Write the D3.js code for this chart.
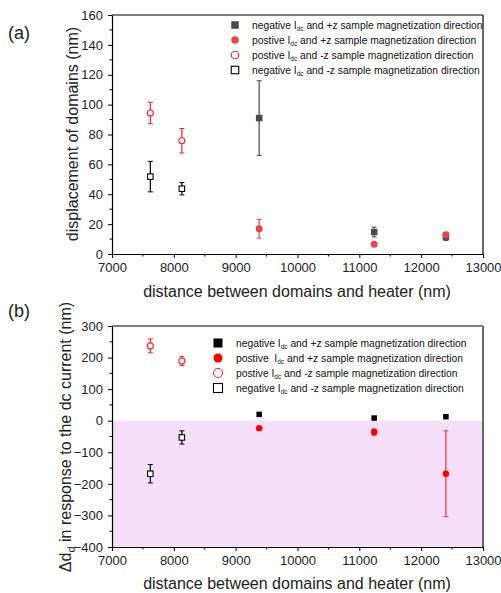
<!DOCTYPE html>
<html><head><meta charset="utf-8">
<script src="https://cdn.jsdelivr.net/npm/d3@7"></script>
<style>body{margin:0;background:#fff}svg{display:block;font-family:"Liberation Sans",Arial,sans-serif}</style>
</head><body><svg id="c" width="501" height="593"></svg>
<script>
// ---- data ----
const xTicks = [7000, 8000, 9000, 10000, 11000, 12000, 13000];
const yTicksA = [0, 20, 40, 60, 80, 100, 120, 140, 160];
const yTicksB = [-400, -300, -200, -100, 0, 100, 200, 300];

const xPlusZ = [9380, 11240, 12400];
const xMinusZ = [7620, 8130];

// panel (a)
const aNegPlusZ = [91, 14.7, 11.6],  aNegPlusZErr = [25, 3.3, 2.5];
const aPosPlusZ = [16.9, 6.5, 12.9], aPosPlusZErr = [6.3, 0, 1.2];
const aPosMinusZ = [94.4, 75.8],     aPosMinusZErr = [7.2, 8.2];
const aNegMinusZ = [51.8, 43.7],     aNegMinusZErr = [10.2, 4.1];

// panel (b)
const bNegPlusZ = [20, 8.5, 12.7],    bNegPlusZErr = [0, 0, 0];
const bPosPlusZ = [-24, -36, -168],   bPosPlusZErr = [3, 10, 136];
const bPosMinusZ = [237, 189],        bPosMinusZErr = [22, 14];
const bNegMinusZ = [-168, -53],       bNegMinusZErr = [29, 21];

const legendA = [
  ["negative I", "dc", " and +z sample magnetization direction"],
  ["postive I", "dc", " and +z sample magnetization direction"],
  ["postive I", "dc", " and -z sample magnetization direction"],
  ["negative I", "dc", " and -z sample magnetization direction"]
];
const legendB = [
  ["negative I", "dc", " and +z sample magnetization direction"],
  ["postive  I", "dc", " and +z sample magnetization direction"],
  ["postive I", "dc", " and -z sample magnetization direction"],
  ["negative I", "dc", " and -z sample magnetization direction"]
];

// ---- drawing ----
const svg = d3.select("#c");
const L = 112, R = 483;
const x = d3.scaleLinear().domain([7000, 13000]).range([L, R]);

function panel(top, bottom, yDom, yTicks, minorStep, series, legend, legX, legY, legTextX, legMs, shade, rightGrey) {
  const y = d3.scaleLinear().domain(yDom).range([bottom, top]);
  const g = svg.append("g");
  if (shade) {
    g.append("rect").attr("x", L).attr("y", y(0)).attr("width", R - L).attr("height", y(yDom[0]) - y(0))
      .attr("fill", "#f7dffb");
  }
  // minor ticks
  const xMinor = d3.range(7500, 13000, 1000);
  g.selectAll(".xm").data(xMinor).join("line").attr("x1", d => x(d)).attr("x2", d => x(d))
    .attr("y1", bottom).attr("y2", bottom + 2.5).attr("stroke", "#000");
  const yMinor = d3.range(yDom[0] + minorStep, yDom[1], minorStep * 2);
  g.selectAll(".ym").data(yMinor).join("line").attr("x1", L - 2.5).attr("x2", L)
    .attr("y1", d => y(d)).attr("y2", d => y(d)).attr("stroke", "#000");

  const xa = g.append("g").attr("transform", `translate(0,${bottom})`)
    .call(d3.axisBottom(x).tickValues(xTicks).tickSize(4).tickSizeOuter(0).tickPadding(5).tickFormat(d3.format("d")));
  const ya = g.append("g").attr("transform", `translate(${L},0)`)
    .call(d3.axisLeft(y).tickValues(yTicks).tickSize(4).tickSizeOuter(0).tickPadding(5).tickFormat(d3.format("d")));
  [xa, ya].forEach(a => {
    a.selectAll("text").attr("font-size", 13).attr("fill", "#222").attr("font-family", "Liberation Sans, Arial, sans-serif");
    a.select(".domain").attr("stroke", "#000").attr("stroke-width", 1.2);
  });
  // frame top/right
  g.append("line").attr("x1", L).attr("x2", R).attr("y1", top).attr("y2", top).attr("stroke", "#000").attr("stroke-width", 1.2);
  g.append("line").attr("x1", R).attr("x2", R).attr("y1", top).attr("y2", bottom)
    .attr("stroke", rightGrey ? "#666" : "#000").attr("stroke-width", rightGrey ? 2 : 1.2);

  // series
  series.forEach(s => {
    const pts = s.xs.map((xv, i) => ({ x: xv, y: s.ys[i], e: s.es[i] }));
    const eg = g.append("g");
    pts.forEach(p => {
      if (p.e > 0) {
        eg.append("line").attr("x1", x(p.x)).attr("x2", x(p.x)).attr("y1", y(p.y + p.e)).attr("y2", y(p.y - p.e))
          .attr("stroke", s.ec).attr("stroke-width", 1.2);
        [p.y + p.e, p.y - p.e].forEach(v => eg.append("line").attr("x1", x(p.x) - 2.5).attr("x2", x(p.x) + 2.5)
          .attr("y1", y(v)).attr("y2", y(v)).attr("stroke", s.ec).attr("stroke-width", 1));
      }
    });
    pts.forEach(p => drawMarker(g, s.shape, x(p.x), y(p.y), s.size, s.fill, s.stroke));
  });

  // legend
  legend.forEach((t, i) => {
    const s = series[i];
    const cy = legY + i * 15;
    drawMarker(g, s.shape, legX, cy, legMs, s.fill, s.stroke);
    const tx = g.append("text").attr("x", legTextX).attr("y", cy + 3.5).attr("font-size", 10.3).attr("fill", "#111")
      .attr("xml:space", "preserve").style("white-space", "pre");
    tx.append("tspan").text(t[0]);
    tx.append("tspan").attr("font-size", 6.5).attr("dy", 2.5).text(t[1]);
    tx.append("tspan").attr("dy", -2.5).text(t[2]);
  });
  return y;
}

function drawMarker(g, shape, cx, cy, size, fill, stroke) {
  if (shape === "square") {
    g.append("rect").attr("x", cx - size / 2).attr("y", cy - size / 2).attr("width", size).attr("height", size)
      .attr("fill", fill).attr("stroke", stroke).attr("stroke-width", fill === "#fff" ? 1.1 : 0);
  } else {
    g.append("circle").attr("cx", cx).attr("cy", cy).attr("r", size / 2)
      .attr("fill", fill).attr("stroke", stroke).attr("stroke-width", fill === "#fff" ? 1.1 : 0);
  }
}

const greyA = "#4a4a4a", redA = "#f04448";
panel(15, 254, [0, 160], yTicksA, 10, [
  { xs: xPlusZ, ys: aNegPlusZ, es: aNegPlusZErr, shape: "square", size: 6.5, fill: greyA, stroke: greyA, ec: greyA },
  { xs: xPlusZ, ys: aPosPlusZ, es: aPosPlusZErr, shape: "circle", size: 7, fill: redA, stroke: redA, ec: redA },
  { xs: xMinusZ, ys: aPosMinusZ, es: aPosMinusZErr, shape: "circle", size: 6, fill: "#fff", stroke: "#ff2020", ec: "#ff2020" },
  { xs: xMinusZ, ys: aNegMinusZ, es: aNegMinusZErr, shape: "square", size: 5.5, fill: "#fff", stroke: "#000", ec: "#000" }
], legendA, 235, 25, 252, 7.5, false, false);

panel(326, 547, [-400, 300], yTicksB, 50, [
  { xs: xPlusZ, ys: bNegPlusZ, es: bNegPlusZErr, shape: "square", size: 5.5, fill: "#000", stroke: "#000", ec: "#000" },
  { xs: xPlusZ, ys: bPosPlusZ, es: bPosPlusZErr, shape: "circle", size: 6.5, fill: "#ff0000", stroke: "#ff0000", ec: "#ff3030" },
  { xs: xMinusZ, ys: bPosMinusZ, es: bPosMinusZErr, shape: "circle", size: 6, fill: "#fff", stroke: "#ff2020", ec: "#ff2020" },
  { xs: xMinusZ, ys: bNegMinusZ, es: bNegMinusZErr, shape: "square", size: 5.5, fill: "#fff", stroke: "#000", ec: "#000" }
], legendB, 218, 343, 236, 9, true, true);

// titles
svg.append("text").attr("x", 297).attr("y", 297).attr("text-anchor", "middle").attr("font-size", 16).attr("fill", "#222")
  .text("distance between domains and heater (nm)");
svg.append("text").attr("x", 297).attr("y", 589).attr("text-anchor", "middle").attr("font-size", 16).attr("fill", "#222")
  .text("distance between domains and heater (nm)");
svg.append("text").attr("transform", "translate(78,134) rotate(-90)").attr("text-anchor", "middle").attr("font-size", 16).attr("fill", "#222")
  .text("displacement of domains (nm)");
const yb = svg.append("text").attr("transform", "translate(71,437) rotate(-90)").attr("text-anchor", "middle").attr("font-size", 16).attr("fill", "#222");
yb.append("tspan").text("Δd");
yb.append("tspan").attr("font-size", 11).attr("dy", 4).text("d");
yb.append("tspan").attr("dy", -4).text(" in response to the dc current (nm)");
svg.append("text").attr("x", 8).attr("y", 39).attr("font-size", 18).attr("fill", "#222").text("(a)");
svg.append("text").attr("x", 8).attr("y", 317).attr("font-size", 18).attr("fill", "#222").text("(b)");
</script></body></html>
